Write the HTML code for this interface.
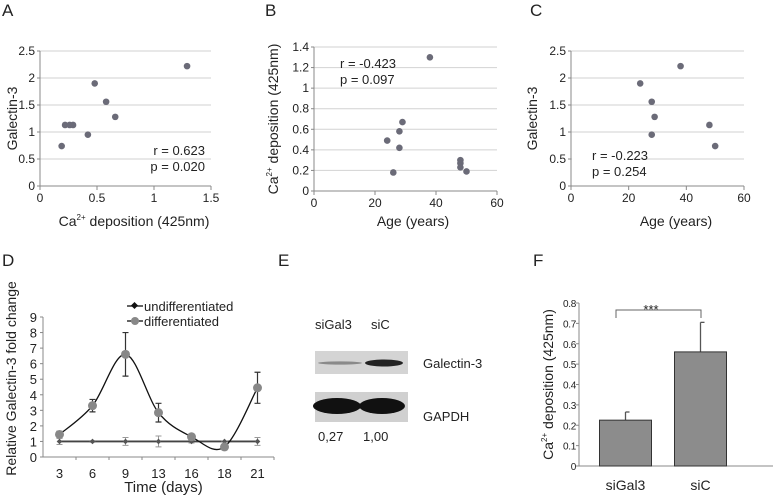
<!DOCTYPE html>
<html><head><meta charset="utf-8"><style>
html,body{margin:0;padding:0;background:#fff}
svg{display:block;font-family:"Liberation Sans",Arial,sans-serif}
</style></head><body>
<svg id="fig" width="774" height="498" viewBox="0 0 774 498" xmlns="http://www.w3.org/2000/svg">
<g>
  <text x="2" y="16" font-size="17" fill="#222">A</text>
  <text x="265" y="16" font-size="17" fill="#222">B</text>
  <text x="530" y="16" font-size="17" fill="#222">C</text>
  <text x="2" y="266" font-size="17" fill="#222">D</text>
  <text x="278" y="266" font-size="17" fill="#222">E</text>
  <text x="533" y="266" font-size="17" fill="#222">F</text>
  <text x="315" y="329" font-size="13" fill="#222">siGal3</text>
  <text x="371" y="329" font-size="13" fill="#222">siC</text>
  <rect x="315" y="351" width="93" height="23" fill="#d4d4d4"/>
  <ellipse cx="340" cy="363" rx="22" ry="1.6" fill="#8a8a8a"/>
  <ellipse cx="384" cy="363" rx="19" ry="3.5" fill="#222"/>
  <rect x="315" y="392" width="93" height="30" fill="#d0d0d0"/>
  <ellipse cx="337" cy="406" rx="24" ry="8" fill="#111"/>
  <ellipse cx="382" cy="406" rx="23" ry="8" fill="#111"/>
  <text x="423" y="368" font-size="13" fill="#222">Galectin-3</text>
  <text x="423" y="421" font-size="13" fill="#222">GAPDH</text>
  <text x="318" y="441" font-size="13" fill="#222">0,27</text>
  <text x="363" y="441" font-size="13" fill="#222">1,00</text>
</g>
</svg>
<script>
// Panel A data
const aX=[0.19,0.22,0.26,0.29,0.42,0.48,0.58,0.66,1.29];
const aY=[0.74,1.13,1.13,1.13,0.95,1.9,1.56,1.28,2.22];
const aXTicks=[0,0.5,1,1.5];
const aYTicks=[0,0.5,1,1.5,2,2.5];
// Panel B data
const bX=[24,26,28,28,29,38,48,48,48,50];
const bY=[0.49,0.18,0.58,0.42,0.67,1.3,0.3,0.27,0.23,0.19];
const bXTicks=[0,20,40,60];
const bYTicks=[0,0.2,0.4,0.6,0.8,1,1.2,1.4];
// Panel C data
const cX=[24,28,28,29,38,48,50];
const cY=[1.9,1.56,0.95,1.28,2.22,1.13,0.74];
const cXTicks=[0,20,40,60];
const cYTicks=[0,0.5,1,1.5,2,2.5];
// Panel D data
const dCats=["3","6","9","13","16","18","21"];
const dDiff=[1.45,3.3,6.6,2.85,1.3,0.65,4.45];
const dDiffErr=[0.2,0.4,1.4,0.6,0.15,0.1,1.0];
const dUndiff=[1,1,1,1,1,1,1];
const dUndiffErr=[0.2,0.05,0.25,0.35,0.1,0.02,0.25];
const dYTicks=[0,1,2,3,4,5,6,7,8,9];
// Panel F data
const fCats=["siGal3","siC"];
const fVals=[0.225,0.56];
const fErr=[0.04,0.145];
const fYTicks=[0,0.1,0.2,0.3,0.4,0.5,0.6,0.7,0.8];

const NS="http://www.w3.org/2000/svg";
const svg=document.getElementById('fig');
function mk(tag,attrs,parent,txt){const e=document.createElementNS(NS,tag);for(const k in attrs)e.setAttribute(k,attrs[k]);if(txt!==undefined)e.textContent=txt;(parent||svg).appendChild(e);return e;}
function lin(d0,d1,r0,r1){return v=>r0+(v-d0)*(r1-r0)/(d1-d0);}
const fmt=v=>String(v);

function scatter(name,xs,ys,xt,yt,x0,x1,y0,y1,xTitle,yTitle,yTitleX,xTitleX,ann,annX,annY,annAnchor,gapLine){
  const g=mk('g',{});
  
  
  const sx=lin(xt[0],xt[xt.length-1],x0,x1), sy=lin(yt[0],yt[yt.length-1],y0,y1);
  yt.forEach(v=>{
    if(v!==yt[0]){const l=mk('line',{x1:x0,x2:x1,y1:sy(v),y2:sy(v),stroke:'#d2d2d2','stroke-width':1},g);
      
      }
    const t=mk('text',{x:x0-5,y:sy(v)+4,'text-anchor':'end','font-size':12,fill:'#222'},g,fmt(v));
    
    
    mk('line',{x1:x0-3,x2:x0,y1:sy(v),y2:sy(v),stroke:'#888'},g);
  });
  mk('line',{x1:x0,x2:x0,y1:y0,y2:y1,stroke:'#888'},g);
  mk('line',{x1:x0,x2:x1,y1:y0,y2:y0,stroke:'#888'},g);
  xt.forEach(v=>{
    mk('line',{x1:sx(v),x2:sx(v),y1:y0,y2:y0+4,stroke:'#888'},g);
    const t=mk('text',{x:sx(v),y:y0+16,'text-anchor':'middle','font-size':12,fill:'#222'},g,fmt(v));
    
    
  });
  if(gapLine){const r=mk('rect',gapLine,g);r.setAttribute('fill','#fff');}
  xs.forEach((v,i)=>{const c=mk('circle',{cx:sx(v),cy:sy(ys[i]),r:3.3,fill:'#6b6b78'},g);
    
    });
  const xtEl=mk('text',{x:xTitleX,y:226,'text-anchor':'middle','font-size':14,fill:'#222'},g);
  
  
  xtEl.innerHTML=xTitle;
  const ytEl=mk('text',{transform:`translate(${yTitleX},${(y0+y1)/2}) rotate(-90)`,'text-anchor':'middle','font-size':14,fill:'#222'},g);
  
  
  ytEl.innerHTML=yTitle;
  ann.forEach((s,i)=>{const t=mk('text',{x:annX,y:annY+i*16,'text-anchor':annAnchor,'font-size':13,fill:'#222'},g,s);
    
    });
}
const caT='Ca<tspan font-size="8" dy="-6">2+</tspan><tspan dy="6"> deposition (425nm)</tspan>';
scatter('panel-a-scatter',aX,aY,aXTicks,aYTicks,40,211,186,51,caT,'Galectin-3',17,134,['r = 0.623','p = 0.020'],205,155,'end',{x:140,y:151,width:71,height:6});
scatter('panel-b-scatter',bX,bY,bXTicks,bYTicks,314,497,191,47,'Age (years)',caT,278,413,['r = -0.423','p = 0.097'],340,68,'start',null);
scatter('panel-c-scatter',cX,cY,cXTicks,cYTicks,571,744,186,51,'Age (years)','Galectin-3',537,676,['r = -0.223','p = 0.254'],592,160,'start',{x:572,y:157,width:60,height:6});

// Panel D
(function(){
  const g=mk('g',{});
  
  
  const x0=43,x1=274,y0=457,y1=317;
  const sy=lin(0,9,y0,y1);
  const step=(x1-x0)/dCats.length;
  const sx=i=>x0+step*(i+0.5);
  mk('line',{x1:x0,x2:x0,y1:y0,y2:y1,stroke:'#888'},g);
  mk('line',{x1:x0,x2:x1,y1:y0,y2:y0,stroke:'#888'},g);
  dYTicks.forEach(v=>{mk('line',{x1:x0-3,x2:x0,y1:sy(v),y2:sy(v),stroke:'#888'},g);
    const t=mk('text',{x:x0-6,y:sy(v)+5,'text-anchor':'end','font-size':13,fill:'#222'},g,v);
    
    });
  dCats.forEach((c,i)=>{mk('line',{x1:x0+step*(i+1),x2:x0+step*(i+1),y1:y0,y2:y0+3,stroke:'#888'},g);
    const t=mk('text',{x:sx(i),y:y0+21,'text-anchor':'middle','font-size':13,fill:'#222'},g,c);
    
    });
  const u=mk('polyline',{points:dUndiff.map((v,i)=>sx(i)+','+sy(v)).join(' '),fill:'none',stroke:'#444','stroke-width':1.8},g);
  
  
  dUndiff.forEach((v,i)=>{const e=dUndiffErr[i];
    mk('path',{d:`M${sx(i)},${sy(v-e)}V${sy(v+e)}M${sx(i)-3},${sy(v-e)}h6M${sx(i)-3},${sy(v+e)}h6`,stroke:'#999',fill:'none'},g);
    const m=mk('rect',{x:sx(i)-2,y:sy(v)-2,width:4,height:4,fill:'#555',transform:`rotate(45 ${sx(i)} ${sy(v)})`},g);
    
    });
  const P=dDiff.map((v,i)=>[sx(i),sy(v)]);
  let d=`M${P[0][0]},${P[0][1]}`;
  for(let i=0;i<P.length-1;i++){const p0=P[Math.max(i-1,0)],p1=P[i],p2=P[i+1],p3=P[Math.min(i+2,P.length-1)];
    d+=`C${p1[0]+(p2[0]-p0[0])/6},${p1[1]+(p2[1]-p0[1])/6} ${p2[0]-(p3[0]-p1[0])/6},${p2[1]-(p3[1]-p1[1])/6} ${p2[0]},${p2[1]}`;}
  const c=mk('path',{d:d,fill:'none',stroke:'#111','stroke-width':1.3},g);
  
  
  dDiff.forEach((v,i)=>{const e=dDiffErr[i];
    mk('path',{d:`M${sx(i)},${sy(v-e)}V${sy(v+e)}M${sx(i)-3},${sy(v-e)}h6M${sx(i)-3},${sy(v+e)}h6`,stroke:'#333',fill:'none','stroke-width':1.2},g);
    const m=mk('circle',{cx:sx(i),cy:sy(v),r:4.5,fill:'#888'},g);
    
    });
  const lg=mk('g',{},g);
  
  
  mk('line',{x1:127,x2:143,y1:306,y2:306,stroke:'#111','stroke-width':1.3},lg);
  mk('rect',{x:132,y:303,width:5,height:5,fill:'#111',transform:'rotate(45 134.5 305.5)'},lg);
  const t1=mk('text',{x:144,y:311,'font-size':13,fill:'#222'},lg,'undifferentiated');
  
  
  mk('line',{x1:127,x2:143,y1:321,y2:321,stroke:'#111','stroke-width':1.3},lg);
  mk('circle',{cx:135,cy:321,r:4,fill:'#888'},lg);
  const t2=mk('text',{x:144,y:326,'font-size':13,fill:'#222'},lg,'differentiated');
  
  
  const xt=mk('text',{x:x0+(x1-x0)/2+5,y:492,'text-anchor':'middle','font-size':15,fill:'#222'},g,'Time (days)');
  
  
  const yt=mk('text',{transform:`translate(16,${(y0+300)/2}) rotate(-90)`,'text-anchor':'middle','font-size':14,fill:'#222'},g,'Relative Galectin-3 fold change');
  
  
})();

// Panel F
(function(){
  const g=mk('g',{});
  
  
  const x0=579,x1=773,y0=466,y1=303;
  const sy=lin(0,0.8,y0,y1);
  const centers=[625.5,700.5], bw=52;
  mk('line',{x1:x0,x2:x0,y1:y0,y2:y1,stroke:'#888'},g);
  mk('line',{x1:x0,x2:x1,y1:y0,y2:y0,stroke:'#888'},g);
  fYTicks.forEach(v=>{mk('line',{x1:x0-3,x2:x0,y1:sy(v),y2:sy(v),stroke:'#888'},g);
    const t=mk('text',{x:x0-3,y:sy(v)+4,'text-anchor':'end','font-size':10,'letter-spacing':-0.3,fill:'#222'},g,fmt(v));
    
    });
  fVals.forEach((v,i)=>{const cx=centers[i];
    mk('line',{x1:cx,x2:cx,y1:sy(v),y2:sy(v+fErr[i]),stroke:'#555','stroke-width':1.3},g);
    mk('line',{x1:cx,x2:cx+4,y1:sy(v+fErr[i]),y2:sy(v+fErr[i]),stroke:'#555','stroke-width':1.3},g);
    const b=mk('rect',{x:cx-bw/2,y:sy(v),width:bw,height:y0-sy(v),fill:'#8c8c8c',stroke:'#333','stroke-width':1},g);
    
    
    const t=mk('text',{x:cx,y:490,'text-anchor':'middle','font-size':14,fill:'#222'},g,fCats[i]);
    
    });
  mk('path',{d:`M616,318V310H701V318`,fill:'none',stroke:'#666'},g);
  const s=mk('text',{x:651,y:314,'text-anchor':'middle','font-size':13,fill:'#222'},g,'***');
  
  
  const yt=mk('text',{transform:`translate(553,${(y0+y1)/2}) rotate(-90)`,'text-anchor':'middle','font-size':14,fill:'#222'},g);
  
  
  yt.innerHTML=caT;
})();
</script>
</body></html>
